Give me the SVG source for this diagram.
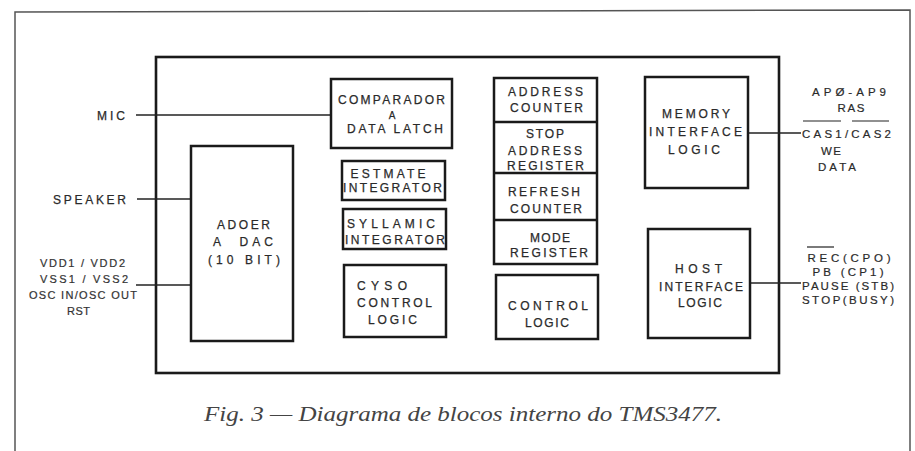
<svg xmlns="http://www.w3.org/2000/svg" width="915" height="451" viewBox="0 0 915 451">
<style>
.frame{fill:none;stroke:#555;stroke-width:1.5}
.chip{fill:none;stroke:#1a1a1a;stroke-width:2.6}
.box{fill:#fff;stroke:#1a1a1a;stroke-width:2.5}
.wire{fill:none;stroke:#222;stroke-width:1.5}
.t{font-family:"Liberation Sans",Arial,sans-serif;font-size:12px;fill:#2a2a2a;stroke:#2a2a2a;stroke-width:0.25;text-anchor:middle}
.s{font-family:"Liberation Sans",Arial,sans-serif;font-size:11px;fill:#333;stroke:#333;stroke-width:0.2;text-anchor:middle}
.r{font-family:"Liberation Sans",Arial,sans-serif;font-size:11.5px;fill:#2a2a2a;stroke:#2a2a2a;stroke-width:0.2;text-anchor:middle}
.cap{font-family:"Liberation Serif","Times New Roman",serif;font-style:italic;font-size:22px;fill:#444}
</style>
<rect width="915" height="451" fill="#fff"/>
<g id="frame">
<path class="frame" d="M15,451 L15,12 L910,10 L910,451"/>
</g>
<g id="chip">
<rect class="chip" x="156" y="57" width="623" height="316"/>
</g>
<g id="connectors">
<line class="wire" x1="136" y1="115" x2="331" y2="115"/>
<line class="wire" x1="137" y1="199" x2="191" y2="199"/>
<line class="wire" x1="136" y1="285" x2="191" y2="285"/>
<line class="wire" x1="748" y1="133" x2="801" y2="133"/>
<line class="wire" x1="750" y1="283" x2="801" y2="283"/>
</g>
<g id="comparador">
<rect class="box" x="331" y="79" width="121" height="69"/>
<text class="t" x="391.5" y="104" textLength="107">COMPARADOR</text>
<text class="t" x="392" y="119" style="font-size:10px">A</text>
<text class="t" x="395" y="133" textLength="96">DATA LATCH</text>
</g>
<g id="estmate">
<rect class="box" x="342" y="161" width="103" height="39"/>
<text class="t" x="388" y="177.5" textLength="75">ESTMATE</text>
<text class="t" x="392.5" y="192" textLength="99">INTEGRATOR</text>
</g>
<g id="syllamic">
<rect class="box" x="343" y="209" width="103" height="40"/>
<text class="t" x="391" y="227.5" textLength="88">SYLLAMIC</text>
<text class="t" x="395" y="243.5" textLength="100">INTEGRATOR</text>
</g>
<g id="cyso">
<rect class="box" x="344" y="265" width="102" height="72"/>
<text class="t" x="382" y="289.5" textLength="50">CYSO</text>
<text class="t" x="394.5" y="306.5" textLength="75">CONTROL</text>
<text class="t" x="392.5" y="323.5" textLength="49">LOGIC</text>
</g>
<g id="adder">
<rect class="box" x="191" y="146" width="102" height="195"/>
<text class="t" x="243.5" y="228.5" textLength="53">ADOER</text>
<text class="t" x="243" y="245.5" textLength="60" xml:space="preserve">A  DAC</text>
<text class="t" x="244" y="263.5" textLength="72">(10 BIT)</text>
</g>
<g id="address-stack">
<rect class="box" x="494" y="78" width="103" height="186"/>
<line class="box" x1="494" y1="122" x2="597" y2="122"/>
<line class="box" x1="494" y1="173" x2="597" y2="173"/>
<line class="box" x1="494" y1="220" x2="597" y2="220"/>
<text class="t" x="545.5" y="95.5" textLength="75">ADDRESS</text>
<text class="t" x="546.5" y="111.5" textLength="73">COUNTER</text>
<text class="t" x="545" y="137.5" textLength="38">STOP</text>
<text class="t" x="545" y="154.5" textLength="74">ADDRESS</text>
<text class="t" x="545.5" y="170" textLength="77">REGISTER</text>
<text class="t" x="544" y="195.5" textLength="72">REFRESH</text>
<text class="t" x="546" y="212.5" textLength="72">COUNTER</text>
<text class="t" x="550" y="241.5" textLength="40">MODE</text>
<text class="t" x="549" y="257" textLength="78">REGISTER</text>
</g>
<g id="control">
<rect class="box" x="496" y="275" width="102" height="64"/>
<text class="t" x="548" y="309.5" textLength="80">CONTROL</text>
<text class="t" x="547" y="326.5" textLength="44">LOGIC</text>
</g>
<g id="memory">
<rect class="box" x="645" y="77" width="103" height="111"/>
<text class="t" x="696" y="117.5" textLength="68">MEMORY</text>
<text class="t" x="695.5" y="135.5" textLength="93">INTERFACE</text>
<text class="t" x="694" y="153.5" textLength="52">LOGIC</text>
</g>
<g id="host">
<rect class="box" x="648" y="229" width="102" height="109"/>
<text class="t" x="698.5" y="273" textLength="47">HOST</text>
<text class="t" x="701" y="291" textLength="84">INTERFACE</text>
<text class="t" x="700" y="307" textLength="44">LOGIC</text>
</g>
<g id="labels-left">
<text class="t" x="111" y="119.5" textLength="28">MIC</text>
<text class="t" x="89.5" y="203.5" textLength="73">SPEAKER</text>
<text class="s" x="82.5" y="267" textLength="85">VDD1 / VDD2</text>
<text class="s" x="84" y="283" textLength="88">VSS1 / VSS2</text>
<text class="s" x="83" y="298.5" textLength="108">OSC IN/OSC OUT</text>
<text class="s" x="78.5" y="315" textLength="23">RST</text>
</g>
<g id="labels-right">
<text class="r" x="849" y="95.5" textLength="74">APØ-AP9</text>
<text class="r" x="851" y="111.5" textLength="27">RAS</text>
<line class="wire" x1="803" y1="121" x2="841" y2="121" style="stroke-width:1.2"/>
<line class="wire" x1="852" y1="121" x2="889" y2="121" style="stroke-width:1.2"/>
<text class="r" x="846.5" y="137.5" textLength="89">CAS1/CAS2</text>
<text class="r" x="831" y="154.5" textLength="20">WE</text>
<text class="r" x="837" y="171" textLength="38">DATA</text>
<line class="wire" x1="807" y1="247" x2="834" y2="247" style="stroke-width:1.2"/>
<text class="r" x="849" y="261.5" textLength="83">REC(CPO)</text>
<text class="r" x="848" y="275.5" textLength="71">PB (CP1)</text>
<text class="r" x="848" y="289.5" textLength="92">PAUSE (STB)</text>
<text class="r" x="848" y="304" textLength="92">STOP(BUSY)</text>
</g>
<g id="caption">
<text class="cap" x="204" y="421" textLength="518" lengthAdjust="spacingAndGlyphs">Fig. 3 — Diagrama de blocos interno do TMS3477.</text>
</g>
</svg>
